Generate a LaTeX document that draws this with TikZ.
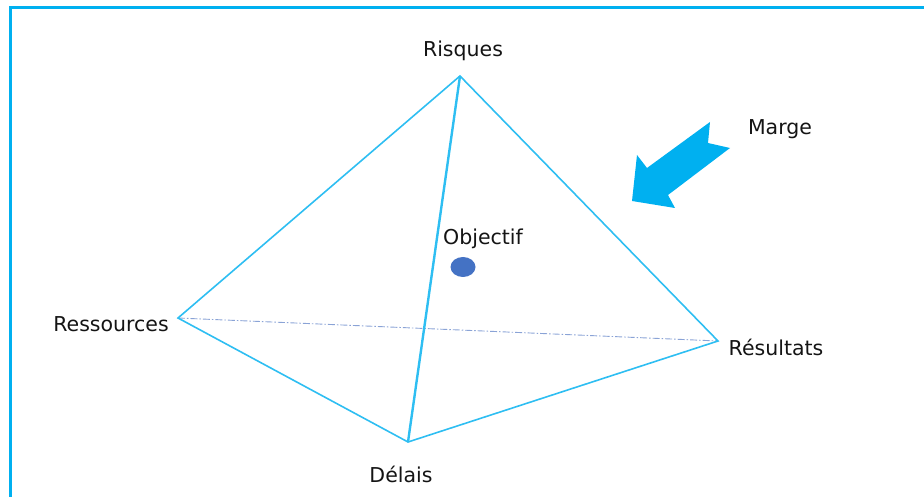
\documentclass[tikz,border=0pt]{standalone}
\usepackage{fontspec}
\setmainfont{DejaVu Sans}
\definecolor{edgeblue}{HTML}{2EBEF2}
\definecolor{arrowblue}{HTML}{00B0F0}
\definecolor{dotblue}{HTML}{4472C4}
\definecolor{dashblue}{HTML}{8AA3D6}
\definecolor{txt}{HTML}{141414}
\begin{document}
\begin{tikzpicture}[x=1pt,y=-1pt,
  lbl/.style={anchor=base,inner sep=0pt,font=\fontsize{20.5}{24}\selectfont,text=txt},
  edge/.style={draw=edgeblue,line width=1.6pt},
  mainedge/.style={draw=edgeblue,line width=2.4pt},
  hidden/.style={draw=dashblue,line width=0.9pt,dash pattern=on 7pt off 2pt on 1.5pt off 2pt}]
\useasboundingbox (0,0) rectangle (924,497);
% frame (only top and left visible)
\draw[arrowblue,line width=3pt] (10,497) -- (10,8) -- (924,8);
% vertices
\coordinate (top) at (460,76);
\coordinate (res) at (178,318);
\coordinate (rsl) at (718,341);
\coordinate (del) at (408,442);
% hidden edge
\draw[hidden] (res) -- (rsl);
% edges
\draw[edge] (res) -- (top) -- (rsl) -- (del) -- cycle;
\draw[mainedge] (top) -- (del);
% objective dot
\fill[dotblue] (463,267) ellipse [x radius=12.5, y radius=10];
% arrow
\fill[arrowblue] (710,122) -- (647,168) -- (637,155) -- (632,201) -- (675,208) -- (668,195) -- (730,148) -- (708,143) -- cycle;
% labels
\node[lbl] (lrisques) at (463,57) {Risques};
\node[lbl] (lmarge) at (780,135) {Marge};
\node[lbl] (lobj) at (483,245) {Objectif};
\node[lbl] (lress) at (111,331) {Ressources};
\node[lbl] (lresu) at (776,355) {Résultats};
\node[lbl] (ldel) at (401,482) {Délais};
\end{tikzpicture}
\end{document}
